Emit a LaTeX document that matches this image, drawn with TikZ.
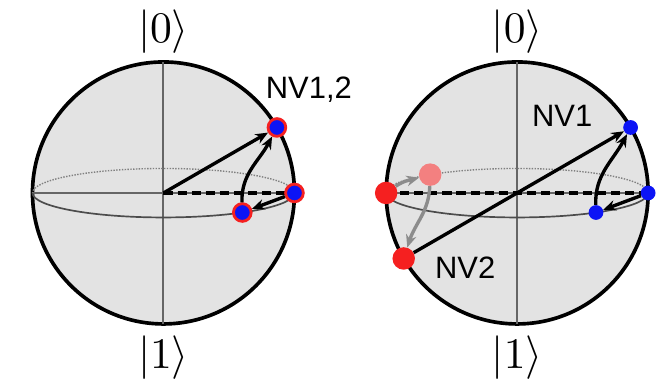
\documentclass[tikz,border=0pt]{standalone}
\usepackage{graphicx}
\usepackage{fontspec}
\setsansfont{Liberation Sans}
\usetikzlibrary{arrows.meta}

\newcommand{\bigket}[1]{\scalebox{3.1}{$|#1\rangle$}}

\begin{document}
\begin{tikzpicture}[scale=3.275]
        \definecolor{dotblue}{RGB}{12,20,245}
        \definecolor{dotred}{RGB}{245,32,32}
        \definecolor{palered}{RGB}{243,128,128}
        \tikzset{
            sphere/.style={draw=black,line width=2.6pt,fill=black!11},
            axis/.style={black!60,line width=1.4pt},
            back/.style={black!50,line width=1pt,densely dotted},
            front/.style={black!70,line width=1.2pt},
            xdash/.style={black,line width=2.4pt,dash pattern=on 6.5pt off 3.5pt},
            nvarrow/.style={black,line width=2.4pt,-{Stealth[length=9pt,width=7.5pt]}},
            grayarrow/.style={black!45,line width=2.4pt,-{Stealth[length=9pt,width=7.5pt]}},
            nvboth/.style={circle,inner sep=0pt,minimum size=12.6pt,fill=dotblue,draw=dotred,line width=2pt},
            nvblue/.style={circle,inner sep=0pt,minimum size=10.5pt,fill=dotblue},
            nvred/.style={circle,inner sep=0pt,minimum size=16pt,fill=dotred},
            nvpale/.style={circle,inner sep=0pt,minimum size=16pt,fill=palered},
            ket/.style={inner sep=0pt},
            nvlabel/.style={font=\sffamily\fontsize{22}{26}\selectfont}
        }
        \useasboundingbox (-1.248,-1.458) rectangle (3.821,1.473);

        % left sphere
        \coordinate (l0) at (0,0);
        \filldraw[sphere] (l0) circle (1);
        \draw[axis] (0,-1) -- (0,1);
        \draw[axis] (-1,0) -- (1,0);
        \draw[back] (1,0) arc[start angle=0,end angle=180,x radius=1,y radius=0.187];
        \draw[front] (1,0) arc[start angle=0,end angle=-180,x radius=1,y radius=0.187];
        \draw[xdash] (l0) -- (1,0);

        \node[nvboth] (la) at (30:1) {};
        \node[nvboth] (lb) at (1,0) {};
        \node[nvboth] (lc) at ({cos(-53)},{0.187*sin(-53)}) {};

        \draw[nvarrow] (l0) -- (la);
        \draw[nvarrow] (lc) to[out=92,in=-118] (la);
        \draw[nvarrow] (lb) -- (lc);

        \node[ket] (lup) at (0,1.229) {\bigket{0}};
        \node[ket] (ldown) at (0,-1.26) {\bigket{1}};
        \node[nvlabel] (lname) at (1.11,0.786) {NV1,2};

        % right sphere
        \begin{scope}[shift={(2.70,0)}]
            \coordinate (r0) at (0,0);
            \filldraw[sphere] (r0) circle (1);
            \draw[axis] (0,-1) -- (0,1);
            \draw[axis] (-1,0) -- (1,0);
            \draw[back] (1,0) arc[start angle=0,end angle=180,x radius=1,y radius=0.187];
            \draw[front] (1,0) arc[start angle=0,end angle=-180,x radius=1,y radius=0.187];
            \draw[xdash] (-1,0) -- (1,0);

            \node[nvblue] (ra) at (30:1) {};
            \node[nvblue] (rb) at (1,0) {};
            \node[nvblue] (rc) at ({cos(-53)},{0.187*sin(-53)}) {};
            \node[nvred] (rd) at (-1,0) {};
            \node[nvpale] (re) at ({cos(131.6)},{0.187*sin(131.6)}) {};
            \node[nvred] (rf) at (210:1) {};

            \draw[nvarrow] (rf) -- (ra);
            \draw[nvarrow] (rc) to[out=92,in=-118] (ra);
            \draw[nvarrow] (rb) -- (rc);
            \draw[grayarrow] (rd) to[out=35,in=195] (re);
            \draw[grayarrow] (re) to[out=-92,in=72] (rf);

            \node[ket] (rup) at (0,1.229) {\bigket{0}};
            \node[ket] (rdown) at (0,-1.26) {\bigket{1}};
            \node[nvlabel] (rname1) at (0.344,0.588) {NV1};
            \node[nvlabel] (rname2) at (-0.397,-0.573) {NV2};
        \end{scope}
    \end{tikzpicture}
\end{document}
